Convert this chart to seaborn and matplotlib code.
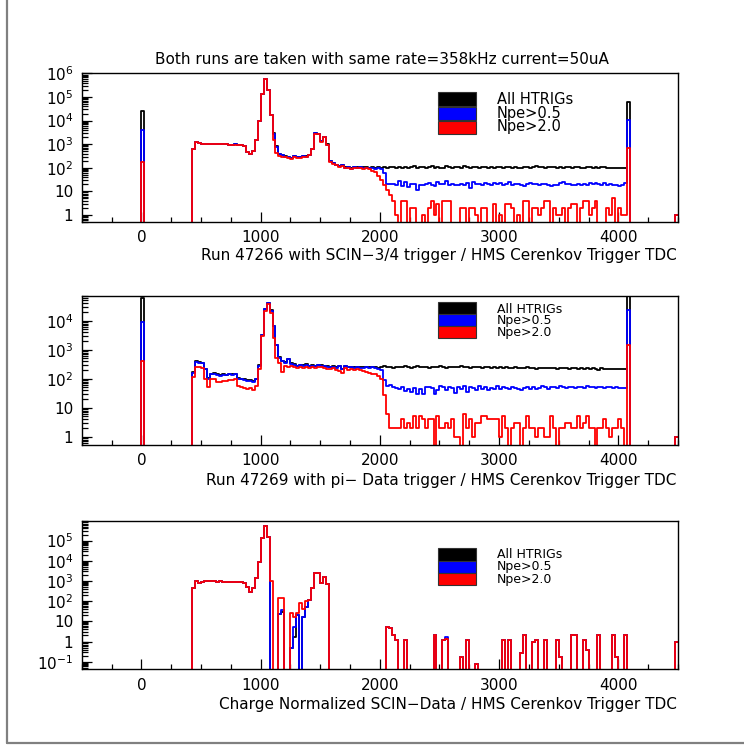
import numpy as np
import pandas as pd
import matplotlib
matplotlib.use("Agg")
import matplotlib.pyplot as plt
import seaborn as sns
from matplotlib.patches import Rectangle
from matplotlib.lines import Line2D
from matplotlib.ticker import FixedLocator, LogLocator, FuncFormatter, MultipleLocator, NullFormatter

# ---------------- data ----------------
bin_width = 25
x_min, x_max = -500, 4500
main_start = 425          # first bin of the main body (bins 425 ... 4050)
spike_low_x = 0
spike_high_x = 4075
last_bin_x = 4475

series_names = ["All HTRIGs", "Npe>0.5", "Npe>2.0"]
series_colors = ["black", "blue", "red"]

title_text = "Both runs are taken with same rate=358kHz current=50uA"
xlabels = ["Run 47266 with SCIN\u22123/4 trigger / HMS Cerenkov Trigger TDC",
           "Run 47269 with pi\u2212 Data trigger / HMS Cerenkov Trigger TDC",
           "Charge Normalized SCIN\u2212Data / HMS Cerenkov Trigger TDC"]
xtick_values = [0, 1000, 2000, 3000, 4000]

# ---- panel 1 : run 47266 ----
p1_all = [610, 1250, 1120, 1060, 1070, 1020, 1070, 1060, 1020, 1060,
          1020, 1010, 970, 960, 980, 960, 950, 820, 480, 380,
          525, 1480, 9800, 1.4e5, 5.6e5, 1.9e5, 1.8e4, 2900, 800, 390,
          360, 310, 300, 270, 330, 300, 290, 330, 310, 360,
          620, 2850, 2750, 1320, 2050, 980, 195, 165, 135, 120,
          130, 105, 110, 95, 110, 105, 110, 104, 106, 100,
          108, 100, 104,
          102, 108, 96, 110, 104, 98, 108, 100, 112, 95,
          110, 118, 98, 104, 112, 96, 106, 118, 100, 108,
          102, 96, 114, 108, 100, 104, 110, 98, 120, 106,
          100, 110, 104, 96, 112, 108, 100, 104, 98, 110,
          106, 100, 112, 104, 98, 110, 102, 96, 104, 108,
          100, 106, 114, 104, 110, 100, 106, 112, 104, 98,
          104, 100, 110, 106, 98, 104, 108, 100, 96, 110,
          104, 100, 106, 98, 104, 110, 100, 96, 102, 98,
          100, 95, 98]
p1_npe05 = [610, 1250, 1120, 1060, 1070, 1020, 1070, 1060, 1020, 1060,
            1020, 1010, 970, 960, 980, 960, 950, 820, 480, 380,
            525, 1480, 9800, 1.4e5, 5.6e5, 1.9e5, 1.8e4, 2800, 790, 380,
            350, 300, 290, 260, 320, 290, 280, 320, 300, 360,
            620, 2850, 2750, 1320, 2050, 970, 190, 160, 130, 115,
            125, 100, 105, 90, 105, 100, 105, 98, 100, 95,
            100, 92, 98, 85, 60, 21,
            21, 20, 19, 27, 17, 24, 16, 20, 21, 11,
            19, 19, 20, 23, 18, 17, 26, 21, 20, 27,
            19, 20, 18, 19, 20, 18, 22, 14, 24, 20,
            20, 18, 22, 20, 19, 23, 21, 22, 18, 20,
            24, 19, 21, 20, 18, 17, 20, 22, 21, 20,
            19, 20, 21, 18, 17, 19, 18, 22, 24, 21,
            21, 19, 18, 21, 19, 20, 18, 23, 20, 22,
            21, 19, 22, 18, 20, 19, 18, 17, 19, 22]
p1_npe20 = [600, 1240, 1100, 1050, 1050, 1000, 1050, 1050, 1000, 1050,
            1000, 1000, 950, 950, 960, 950, 940, 800, 470, 370,
            515, 1450, 9600, 1.4e5, 5.6e5, 1.9e5, 1.7e4, 1500, 420, 330,
            300, 280, 260, 240, 290, 260, 270, 300, 280, 350,
            600, 2800, 2700, 1300, 2000, 950, 180, 150, 125, 110,
            120, 95, 100, 85, 100, 95, 100, 92, 95, 85,
            75, 66, 45, 30, 18, 11, 7, 4, 1, 0,
            4, 4, 0, 2, 2, 0, 0, 1, 0, 2,
            4, 1, 3, 0, 4, 4, 4, 0, 0, 0,
            2, 2, 0, 2, 2, 1, 0, 2, 2, 0,
            0, 3, 0, 1, 0, 3, 3, 2, 0, 1,
            0, 4, 4, 0, 2, 2, 1, 2, 4, 4,
            0, 2, 1, 1, 2, 0, 2, 3, 3, 0,
            2, 4, 4, 1, 2, 4, 0, 0, 0, 2,
            1, 5, 0, 2, 1, 1]
p1_spike_low = [2.5e4, 4000, 180]
p1_spike_high = [6.3e4, 1.07e4, 670]
p1_last_bin = [1, 1, 1]

# ---- panel 2 : run 47269 ----
p2_all = [170, 400, 380, 355, 220, 105, 150, 160, 140, 130,
          140, 135, 145, 140, 145, 105, 100, 95, 90, 88,
          85, 100, 290, 3300, 2.6e4, 4.1e4, 2.3e4, 6800, 1450, 550,
          420, 370, 470, 340, 310, 280, 300, 290, 310, 280,
          290, 280, 300, 290, 280, 270, 260, 270, 250, 280,
          220, 275, 255, 260, 250, 255, 245, 250, 255, 245,
          260, 245, 240, 250, 270, 245, 255, 240, 260, 250,
          245, 265, 250, 240, 255, 270, 250, 245, 260, 240,
          250, 255, 245, 265, 250, 240, 255, 260, 245, 250,
          275, 245, 250, 240, 255, 245, 250, 235, 245, 250,
          240, 245, 235, 250, 240, 245, 230, 240, 245, 235,
          240, 230, 245, 235, 240, 225, 235, 240, 230, 235,
          230, 240, 225, 235, 230, 240, 225, 230, 235, 220,
          230, 225, 235, 220, 230, 225, 205, 230, 220, 225,
          215, 225, 220, 215, 210, 215]
p2_npe05 = [160, 380, 360, 340, 210, 100, 140, 150, 130, 125,
            135, 130, 140, 135, 140, 100, 95, 90, 85, 82,
            80, 95, 275, 3150, 2.5e4, 4e4, 2.2e4, 6600, 1400, 530,
            410, 360, 460, 330, 300, 270, 290, 280, 300, 270,
            280, 270, 290, 280, 270, 260, 250, 260, 240, 270,
            210, 265, 245, 250, 240, 245, 235, 240, 245, 235,
            250, 235, 225, 200, 90, 55,
            60, 52, 48, 46, 50, 38, 45, 36, 48, 30,
            44, 30, 50, 52, 47, 30, 42, 56, 50, 40,
            52, 48, 32, 50, 45, 54, 36, 52, 48, 40,
            55, 44, 50, 42, 48, 46, 55, 44, 50, 47,
            44, 50, 48, 46, 40, 48, 50, 46, 52, 44,
            48, 54, 50, 46, 52, 50, 48, 54, 50, 48,
            52, 50, 47, 53, 50, 48, 54, 50, 52, 48,
            50, 53, 49, 52, 50, 48, 51, 49, 47, 48]
p2_npe20 = [115, 260, 260, 240, 95, 50, 95, 95, 80, 80,
            85, 85, 90, 90, 95, 55, 50, 48, 45, 48,
            42, 55, 210, 3000, 2.2e4, 3.7e4, 1.8e4, 2600, 530, 355,
            170, 280, 250, 280, 250, 240, 250, 240, 260, 240,
            250, 240, 260, 245, 240, 220, 210, 230, 200, 180,
            160, 240, 200, 220, 200, 210, 200, 190, 170, 160,
            150, 140, 120, 100, 27, 6,
            2, 2, 2, 2, 4, 2, 3, 2, 5, 2,
            5, 4, 2, 4, 4, 0, 5, 2, 2, 3,
            2, 4, 1, 1, 0, 6, 2, 4, 1, 3,
            3, 5, 5, 4, 4, 4, 4, 1, 5, 2,
            0, 2, 3, 3, 0, 2, 5, 2, 2, 1,
            2, 2, 1, 1, 5, 2, 0, 2, 2, 3,
            3, 2, 2, 5, 2, 3, 5, 2, 2, 0,
            2, 2, 4, 2, 1, 2, 2, 4, 2, 0]
p2_spike_low = [5.9e4, 9300, 410]
p2_spike_high = [2e5, 2.3e4, 1450]
p2_last_bin = [1, 1, 1]

# ---- panel 3 : charge normalized difference ----
p3_all = [435, 1000, 830, 880, 950, 950, 960, 950, 940, 950,
          900, 880, 870, 860, 870, 850, 850, 760, 520, 295,
          435, 1350, 9100, 1.3e5, 5.4e5, 1.6e5, 0, 0, 0, 23,
          28, 0, 0, 0.46, 1.7, 20, 0, 16, 50, 114,
          435, 2600, 2600, 830, 1500, 680, 0, 0, 0, 0,
          0, 0, 0, 0, 0, 0, 0, 0, 0, 0,
          0, 0, 0, 0, 0, 5.4, 4.6, 2.1, 1.2, 0,
          0, 1.2, 0, 0, 0, 0, 0, 0, 0, 0,
          0, 2.1, 0, 0, 1.2, 1.3, 0, 0, 0, 0,
          0.18, 0, 1.2, 0, 0, 0.08, 0, 0, 0, 0,
          0, 0, 0, 0, 1.2, 0, 1.2, 0, 0, 0,
          0.26, 2.1, 0, 0, 1.0, 1.2, 0, 0, 1.2, 0,
          0, 0, 1.2, 0.18, 0, 0, 0, 2.1, 2.1, 0,
          0, 1.2, 0.38, 0, 0, 0, 2.1, 0, 0, 0,
          0, 2.1, 0.18, 0, 0, 2.1]
p3_npe05 = [435, 1000, 830, 880, 950, 950, 960, 950, 940, 950,
            900, 880, 870, 860, 870, 850, 850, 760, 520, 295,
            435, 1350, 9100, 1.3e5, 5.4e5, 1.6e5, 0, 0, 0, 23,
            36, 0, 0, 0.46, 5, 20, 0, 16, 50, 114,
            435, 2600, 2600, 830, 1500, 680, 0, 0, 0, 0,
            0, 0, 0, 0, 0, 0, 0, 0, 0, 0,
            0, 0, 0, 0, 0, 5.4, 4.6, 2.1, 1.2, 0,
            0, 1.2, 0, 0, 0, 0, 0, 0, 0, 0,
            0, 2.1, 0, 0, 1.2, 1.6, 0, 0, 0, 0,
            0.18, 0, 1.2, 0, 0, 0.08, 0, 0, 0, 0,
            0, 0, 0, 0, 1.2, 0, 1.2, 0, 0, 0,
            0.26, 2.1, 0, 0, 1.0, 1.2, 0, 0, 1.2, 0,
            0, 0, 1.2, 0.18, 0, 0, 0, 2.1, 2.1, 0,
            0, 1.2, 0.38, 0, 0, 0, 2.1, 0, 0, 0,
            0, 2.1, 0.18, 0, 0, 2.1]
p3_npe20 = [435, 1000, 830, 880, 950, 950, 960, 950, 940, 950,
            900, 880, 870, 860, 870, 850, 850, 760, 520, 295,
            435, 1350, 9100, 1.3e5, 5.4e5, 1.6e5, 1000, 0, 0, 140,
            140, 0, 0, 25, 16, 25, 84, 40, 100, 114,
            435, 2600, 2600, 830, 1500, 680, 0, 0, 0, 0,
            0, 0, 0, 0, 0, 0, 0, 0, 0, 0,
            0, 0, 0, 0, 0, 5.4, 4.6, 2.1, 1.2, 0,
            0, 1.2, 0, 0, 0, 0, 0, 0, 0, 0,
            0, 2.1, 0, 0, 1.2, 1.3, 0, 0, 0, 0,
            0.18, 0, 1.2, 0, 0, 0.08, 0, 0, 0, 0,
            0, 0, 0, 0, 1.2, 0, 1.2, 0, 0, 0,
            0.26, 2.1, 0, 0, 1.0, 1.2, 0, 0, 1.2, 0,
            0, 0, 1.2, 0.18, 0, 0, 0, 2.1, 2.1, 0,
            0, 1.2, 0.38, 0, 0, 0, 2.1, 0, 0, 0,
            0, 2.1, 0.18, 0, 0, 2.1]
p3_spike_low = [0, 0, 0]
p3_spike_high = [0, 0, 0]
p3_last_bin = [1, 1, 1]

panels = [
    dict(main=[p1_all, p1_npe05, p1_npe20], low=p1_spike_low, high=p1_spike_high,
         last=p1_last_bin, ylim=(0.5, 1.05e6)),
    dict(main=[p2_all, p2_npe05, p2_npe20], low=p2_spike_low, high=p2_spike_high,
         last=p2_last_bin, ylim=(0.52, 7.1e4)),
    dict(main=[p3_all, p3_npe05, p3_npe20], low=p3_spike_low, high=p3_spike_high,
         last=p3_last_bin, ylim=(0.042, 9.4e5)),
]

# ---------------- helpers ----------------
edges = [float(e) for e in np.arange(x_min, x_max + bin_width, bin_width)]
centers = np.array(edges[:-1]) + bin_width / 2
nbins = len(centers)


def full_hist(main, low, high, last):
    h = np.zeros(nbins)
    i0 = (main_start - x_min) // bin_width
    h[i0:i0 + len(main)] = main
    h[(spike_low_x - x_min) // bin_width] = low
    h[(spike_high_x - x_min) // bin_width] = high
    h[(last_bin_x - x_min) // bin_width] = last
    return h


def log_label(v, pos):
    if v <= 0:
        return ""
    e = int(round(np.log10(v)))
    if abs(v - 10.0 ** e) > 1e-6 * 10.0 ** e:
        return ""
    if e == 0:
        return "1"
    if e == 1:
        return "10"
    return r"$10^{%d}$" % e


# ---------------- figure ----------------
sns.set_theme(style="white")
plt.rcParams["font.family"] = ["DejaVu Sans"]
plt.rcParams["mathtext.fontset"] = "dejavusans"
plt.rcParams["text.color"] = "black"
plt.rcParams["xtick.color"] = "black"
plt.rcParams["ytick.color"] = "black"
plt.rcParams["xtick.labelcolor"] = "black"
plt.rcParams["ytick.labelcolor"] = "black"

W, H = 744, 746
fig = plt.figure(figsize=(W / 100, H / 100), dpi=100)
fig.patch.set_facecolor("white")

# gray outer frame (left and bottom)
fig.add_artist(Line2D([7 / W, 7 / W], [3 / H, 1.0], transform=fig.transFigure,
                      color="#808080", lw=1.6))
fig.add_artist(Line2D([7 / W, 1.0], [3 / H, 3 / H], transform=fig.transFigure,
                      color="#808080", lw=1.6))

ax_boxes = [(73, 222), (296, 445), (521, 669.3)]
ax_left, ax_right = 81.7, 678.0

legend_geom = [
    dict(rects=[(0.7785, 0.8725), (0.6846, 0.7720), (0.5906, 0.6780)],
         texts=[0.8255, 0.7315, 0.6376], fs=10.5),
    dict(rects=[(0.879, 0.962), (0.8007, 0.879), (0.716, 0.8007)],
         texts=[0.912, 0.834, 0.754], fs=9.0),
    dict(rects=[(0.732, 0.816), (0.651, 0.732), (0.566, 0.651)],
         texts=[0.773, 0.692, 0.607], fs=9.0),
]
xlabel_y = [-0.225, -0.24, -0.24]

fs = 11
for pi, (panel, (ytop, ybot)) in enumerate(zip(panels, ax_boxes)):
    ax = fig.add_axes([ax_left / W, 1 - ybot / H, (ax_right - ax_left) / W, (ybot - ytop) / H])
    ax.set_facecolor("white")
    for si in range(3):
        h = full_hist(panel["main"][si], panel["low"][si], panel["high"][si], panel["last"][si])
        df = pd.DataFrame({"x": centers, "w": h})
        sns.histplot(data=df, x="x", weights="w", bins=edges, element="step", fill=False,
                     color=series_colors[si], linewidth=1.3, ax=ax, legend=False)
    ax.set_yscale("log")
    ax.set_xlim(x_min, x_max)
    ax.set_ylim(*panel["ylim"])
    ax.set_xlabel("")
    ax.set_ylabel("")

    ax.xaxis.set_major_locator(FixedLocator(xtick_values))
    ax.xaxis.set_minor_locator(MultipleLocator(250))
    ax.set_xticklabels([str(v) for v in xtick_values])
    ax.yaxis.set_major_locator(LogLocator(base=10, numticks=20))
    ax.yaxis.set_minor_locator(LogLocator(base=10, subs=np.arange(2, 10), numticks=20))
    ax.yaxis.set_major_formatter(FuncFormatter(log_label))
    ax.yaxis.set_minor_formatter(NullFormatter())
    ax.tick_params(axis="both", which="both", direction="in", top=False, right=False,
                   bottom=True, left=True, colors="black", labelcolor="black", labelsize=fs)
    ax.tick_params(axis="x", which="major", length=7.5, width=0.9, pad=6)
    ax.tick_params(axis="x", which="minor", length=3.8, width=0.9)
    ax.tick_params(axis="y", which="major", length=7.5, width=0.9, pad=6)
    ax.tick_params(axis="y", which="minor", length=4.5, width=0.9)
    for sp in ax.spines.values():
        sp.set_visible(True)
        sp.set_color("black")
        sp.set_linewidth(1.0)

    ax.text(0.998, xlabel_y[pi], xlabels[pi], transform=ax.transAxes,
            ha="right", va="center", fontsize=fs, color="black")

    lg = legend_geom[pi]
    for (y0, y1), ty, name, col in zip(lg["rects"], lg["texts"], series_names, series_colors):
        ax.add_patch(Rectangle((0.5975, y0), 0.0637, y1 - y0, transform=ax.transAxes,
                               facecolor=col, edgecolor="#333333", lw=0.8, zorder=5,
                               clip_on=False))
        ax.text(0.696, ty, name, transform=ax.transAxes, ha="left", va="center",
                fontsize=lg["fs"], color="black", zorder=6)

fig.text(382 / W, 1 - 60 / H, title_text, ha="center", va="center", fontsize=fs,
         color="black")

fig.savefig("out.png", dpi=100, facecolor="white")
